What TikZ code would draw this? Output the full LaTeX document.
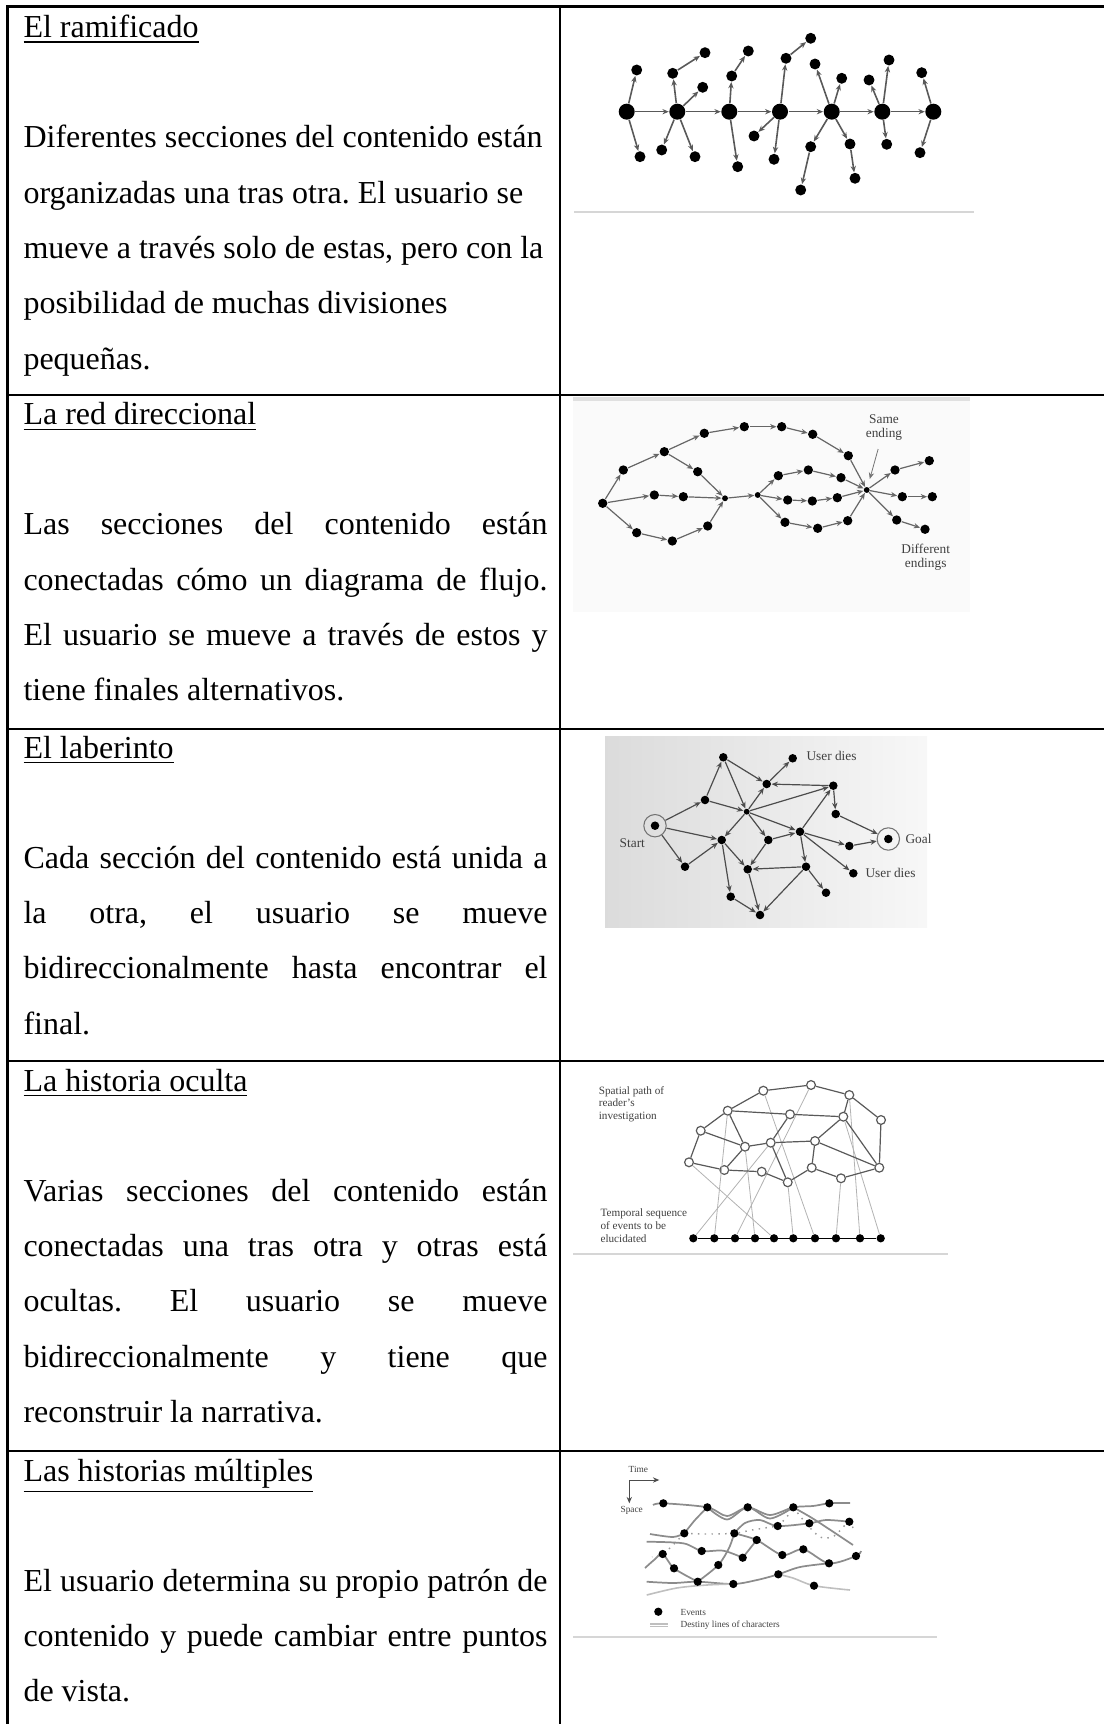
\documentclass[tikz,border=0pt]{standalone}
\usepackage{fontspec}
\setmainfont{Liberation Serif}
\usetikzlibrary{arrows.meta}
\newcommand\celfont{\fontsize{12}{20.75}\selectfont\frenchspacing\hyphenpenalty=10000 \tolerance=10000 }
\tikzset{
  >={Stealth[length=2.4pt,width=2pt]},
  rule/.style={line width=1pt},
  frame/.style={black!16, line width=1pt},
  title/.style={anchor=base west, inner sep=0pt, font=\celfont},
  celltext/.style={anchor=base west, inner sep=0pt, text width=196.5pt, font=\celfont},
  bigdot/.style={circle, fill=black, inner sep=0pt, minimum size=6pt},
  dot/.style={circle, fill=black, inner sep=0pt, minimum size=4.1pt},
  ddot/.style={circle, fill=black, inner sep=0pt, minimum size=3.5pt},
  jdot/.style={circle, fill=black, inner sep=0pt, minimum size=2.2pt},
  mdot/.style={circle, fill=black, inner sep=0pt, minimum size=3.2pt},
  ring/.style={circle, draw=black!55, line width=0.4pt, inner sep=0pt, minimum size=8.4pt},
  odot/.style={circle, draw=black!65, fill=white, line width=0.45pt, inner sep=0pt, minimum size=3.3pt},
  tdot/.style={circle, fill=black, inner sep=0pt, minimum size=3.1pt},
  evt/.style={circle, fill=black, inner sep=0pt, minimum size=3.1pt},
  rarr/.style={->, black!65, line width=0.6pt},
  darr/.style={->, black!60, line width=0.45pt},
  marr/.style={->, black!70, line width=0.45pt},
  net/.style={black!65, line width=0.45pt},
  link/.style={black!30, line width=0.3pt},
  dest/.style={black!45, line width=0.65pt},
  destd/.style={black!40, line width=0.55pt, dotted},
  destl/.style={black!25, line width=0.6pt},
  lbl/.style={inner sep=0pt, font=\fontsize{5}{5.25}\selectfont, black!75},
  slbl/.style={inner sep=0pt, font=\fontsize{4.2}{4.7}\selectfont, black!75},
  tlbl/.style={inner sep=0pt, font=\fontsize{3.5}{3.8}\selectfont, black!75}
}

\begin{document}
\begin{tikzpicture}[x=0.375pt,y=-0.375pt]
\useasboundingbox (0,0) rectangle (1104,1724);
% фон картинок
\fill[black!2] (573,398) rectangle (970,612);
\draw[black!12, line width=1.2pt] (573,399) -- (970,399);
\shade[left color=black!14, right color=black!3] (605,736) rectangle (927,927);
\draw[frame] (574,212) -- (974,212);
\draw[frame] (573,1254) -- (948,1254);
\draw[frame] (573,1637) -- (937,1637);
% таблица
\draw[rule] (7.5,1724) -- (7.5,6.5) -- (1104,6.5);
\draw[rule] (560,6.5) -- (560,1724);
\foreach \y in {395,729,1061,1451}
  \draw[rule] (7.5,\y) -- (1104,\y);
% текст
\node[title] (tit1) at (23,38) {\underline{El ramificado}};
\node[celltext, align=justify] (txt1) at (23,148) {Diferentes secciones del contenido están\\
organizadas una tras otra. El usuario se\\
mueve a través solo de estas, pero con la\\
posibilidad de muchas divisiones\\
pequeñas.};
\node[title] (tit2) at (23,425) {\underline{La red direccional}};
\node[celltext, align=justify] (txt2) at (23,535) {Las secciones del contenido están\linebreak
conectadas cómo un diagrama de flujo.\linebreak
El usuario se mueve a través de estos y\linebreak
tiene finales alternativos.};
\node[title] (tit3) at (23,758) {\underline{El laberinto}};
\node[celltext, align=justify] (txt3) at (23,868) {Cada sección del contenido está unida a\linebreak
la otra, el usuario se mueve\linebreak
bidireccionalmente hasta encontrar el\linebreak
final.};
\node[title] (tit4) at (23,1091) {\underline{La historia oculta}};
\node[celltext, align=justify] (txt4) at (23,1201) {Varias secciones del contenido están\linebreak
conectadas una tras otra y otras está\linebreak
ocultas. El usuario se mueve\linebreak
bidireccionalmente y tiene que\linebreak
reconstruir la narrativa.};
\node[title] (tit5) at (23,1481) {\underline{Las historias múltiples}};
\node[celltext, align=justify] (txt5) at (23,1591) {El usuario determina su propio patrón de\linebreak
contenido y puede cambiar entre puntos\linebreak
de vista.};
% ramificado
\foreach \i/\x in {1/626.7,2/677.3,3/729.3,4/780,5/831.7,6/882.3,7/933.3}
  \node[bigdot] (s\i) at (\x,111.7) {};
\foreach \i/\j in {1/2,2/3,3/4,4/5,5/6,6/7}
  \draw[rarr] (s\i) -- (s\j);
\foreach \n/\x/\y/\p in {ra/636.7/70/s1, rb/640/156.7/s1,
  rc/672.7/73.3/s2, rcc/705/52.7/rc, rd/702.7/87.3/s2, re/661.7/150/s2, rf/695/156.7/s2,
  rg/731.7/76/s3, rgg/748.3/51/rg, rh/737.7/166.7/s3,
  ri/786/58.3/s4, rii/810.7/38.3/ri, rj/754/136/s4, rk/774/159.3/s4,
  rl/815/64/s5, rm/841.7/78.3/s5, rn/810.7/146.7/s5, rnn/800.7/190/rn,
  ro/850/144/s5, roo/855/178.3/ro,
  rp/869/80/s6, rq/889/60/s6, rr/886.7/144.3/s6,
  rt/921.7/72.7/s7, ru/920/152.7/s7}
{
  \node[dot] (\n) at (\x,\y) {};
  \draw[rarr] (\p) -- (\n);
}
% red direccional
\foreach \n/\x/\y in {d0/602.7/503.3,
  du1/623.3/470, du2/664.3/451.7, du3/704.3/433.3, du4/744.3/426.7,
  du5/781.7/426.7, du6/812.7/434.3, du7/848.3/455.7, dv1/697.7/471.7,
  dm1/654.3/495, dm2/683.3/496.7, dw1/636.7/532.7, dw2/672.3/541, dw3/707.7/526,
  dx1/778.3/475.7, dx2/808.3/470, dx3/841/477.7,
  dy1/787.7/500, dy2/812.3/501, dy3/837.3/497.7,
  dz1/785/522.3, dz2/817.7/528.3, dz3/847.7/520.7,
  de1/895/470, de2/929.3/460.7, df1/902.3/496.7, df2/932.3/496.7,
  dg1/896.7/520, dg2/925/529.3}
  \node[ddot] (\n) at (\x,\y) {};
\node[jdot] (dj) at (725,498.3) {};
\node[jdot] (dk) at (757.7,495) {};
\node[jdot] (dh) at (866.7,490) {};
\foreach \a/\b in {d0/du1, du1/du2, du2/du3, du3/du4, du4/du5, du5/du6, du6/du7, du7/dh,
  du2/dv1, dv1/dj, d0/dm1, dm1/dm2, dm2/dj, d0/dw1, dw1/dw2, dw2/dw3, dw3/dj, dj/dk,
  dk/dx1, dx1/dx2, dx2/dx3, dx3/dh, dk/dy1, dy1/dy2, dy2/dy3, dy3/dh,
  dk/dz1, dz1/dz2, dz2/dz3, dz3/dh, dh/de1, de1/de2, dh/df1, df1/df2, dh/dg1, dg1/dg2}
  \draw[darr] (\a) -- (\b);
\node[lbl, align=center] (same) at (884,428) {Same\\ending};
\draw[->, black!55, line width=0.3pt, shorten <=3pt, shorten >=3pt] (same) -- (dh);
\node[lbl, align=center] (diff) at (925.7,557.7) {Different\\endings};
% laberinto
\foreach \n/\x/\y in {m1/723.3/757.3, mud1/792.7/758.3, m2/766.7/784, m3/833.3/785.7,
  m4/705/800, m6/835.7/814, m7/721.7/840, m8/768.3/840, m9/800/831.7,
  m10/849.3/846, m11/685/866.7, m12/747.7/869.3, m13/806/866.7, mud2/853.3/873.3,
  m14/826/892.7, m15/730.7/896.7, m16/760/915}
  \node[mdot] (\n) at (\x,\y) {};
\node[jdot] (m5) at (746.7,811.7) {};
\node[mdot] (mstd) at (655,825.7) {};
\node[ring] (mst) at (655,825.7) {};
\node[mdot] (mgod) at (888.3,839) {};
\node[ring] (mgo) at (888.3,839) {};
\foreach \a/\b in {mst/m4, mst/m7, mst/m11, m11/m7, m4/m1, m4/m5, m1/m5, m1/m2,
  m2/mud1, m3/m2, m5/m3, m5/m2, m5/m9, m5/m7, m5/m8, m9/m3, m3/m6, m6/mgo,
  m9/m10, m10/mgo, m9/mud2, m9/m13, m8/m9, m8/m12, m7/m12, m7/m15,
  m13/m12, m13/m14, m13/m16, m12/m16, m15/m16}
  \draw[marr] (\a) -- (\b);
\node[lbl, anchor=west] (ud1) at (806,756) {User dies};
\node[lbl, anchor=west] (ud2) at (865,873.3) {User dies};
\node[lbl] (start) at (632.3,842.7) {Start};
\node[lbl, anchor=west] (goal) at (905,839) {Goal};
% historia oculta
\foreach \i/\x in {1/693.3,2/714.3,3/735,4/755,5/774,6/793.3,7/815,8/836,9/860,10/880.7}
  \node[tdot] (ht\i) at (\x,1238.3) {};
\draw[black, line width=0.6pt] (ht1) -- (ht10);
\foreach \n/\x/\y in {hA/689/1162.3, hB/700.7/1130.7, hC/727.7/1110.7, hD/763.3/1090.7,
  hE/811/1085, hF/849.3/1095, hG/881/1120, hH/790/1114.3, hI/843.3/1116.7,
  hJ/745/1146.7, hK/770.7/1142.7, hL/815/1141, hM/724.3/1170, hN/761.7/1171.7,
  hO/787.7/1182.3, hP/811.7/1167.7, hQ/841/1178.3, hR/879.3/1167.7}
  \node[odot] (\n) at (\x,\y) {};
\foreach \a/\b in {ht1/hK, ht2/hC, ht3/hE, ht4/hJ, ht5/hA, ht6/hO, ht7/hD, ht8/hQ, ht9/hF, ht10/hI}
  \draw[link] (\a) -- (\b);
\foreach \a/\b in {hA/hB, hB/hC, hC/hD, hD/hE, hE/hF, hF/hG, hG/hR, hB/hJ, hC/hH, hH/hI,
  hC/hJ, hA/hM, hM/hN, hM/hJ, hJ/hK, hK/hH, hK/hL, hK/hO, hN/hO, hO/hP, hP/hL, hP/hQ,
  hQ/hR, hL/hI, hI/hR, hL/hR, hF/hI}
  \draw[net] (\a) -- (\b);
\node[slbl, anchor=base west, align=left] (spat) at (598.3,1119.5) {Spatial path of\\reader’s\\investigation};
\node[slbl, anchor=base west, align=left] (temp) at (600,1242) {Temporal sequence\\of events to be\\elucidated};
% historias multiples
\foreach \i/\x/\y in {1/663.3/1503.3, 2/707.3/1507.3, 3/747.7/1507.3, 4/793.3/1507.3,
  5/829.3/1503.3, 6/849.3/1521.7, 7/684.3/1533.3, 8/734.3/1533.3, 9/756.7/1540,
  10/777.7/1526, 11/809.3/1523.3, 12/662.7/1554, 13/701.7/1551, 14/742.7/1557.7,
  15/782.3/1555, 16/803.3/1549.3, 17/856/1556, 18/674/1568.3, 19/718.3/1565,
  20/829/1563.3, 21/697.7/1581.7, 22/733.3/1584, 23/778.3/1574.3, 24/814/1585.7}
  \coordinate (q\i) at (\x,\y);
\draw[dest] plot[smooth] coordinates {(653,1505) (q1) (q2) (727,1516) (q3) (770,1515) (q4) (813,1506) (q5) (850,1503)};
\draw[dest] plot[smooth] coordinates {(q2) (727,1519.5) (q3) (770,1518.5) (q4)};
\draw[dest] plot[smooth] coordinates {(q2) (695,1520) (q7)};
\draw[destd] plot[smooth] coordinates {(q7) (672,1546) (q12) (652,1557)};
\draw[dest] plot[smooth] coordinates {(650,1534) (673,1537) (q7)};
\draw[destd] plot[smooth] coordinates {(q7) (707,1534) (q8) (752,1530) (q10)};
\draw[dest] plot[smooth] coordinates {(q8) (745,1523) (760,1520) (q10) (q11) (826,1520) (q6)};
\draw[destd] plot[smooth] coordinates {(q10) (786,1518) (q4)};
\draw[destd] plot[smooth] coordinates {(q4) (805,1522) (820,1537) (834,1536) (q6) (854,1533)};
\draw[dest] plot[smooth] coordinates {(q4) (812,1518) (835,1533) (853,1545)};
\draw[dest] plot[smooth] coordinates {(646.7,1541.7) (683.3,1543.3) (q13) (723.3,1550.7) (q14)};
\draw[dest] plot[smooth] coordinates {(q8) (q9) (q15) (q16) (q20) (q17) (861,1551)};
\draw[dest] (q9) -- (q14);
\draw[dest] plot[smooth] coordinates {(645,1568) (654,1560) (q12) (q18) (q21)};
\draw[dest] plot[smooth] coordinates {(q21) (q19) (729,1548) (q8)};
\draw[dest] plot[smooth] coordinates {(646.7,1581.7) (673,1583) (q21) (q22) (757,1580) (q23) (800,1567) (q20)};
\draw[destl] plot[smooth] coordinates {(646.7,1595) (676.7,1588) (706.7,1585) (q22)};
\draw[destl] plot[smooth] coordinates {(q23) (793,1578) (q24) (850,1590)};
\foreach \i in {1,...,24}
  \node[evt] (ev\i) at (q\i) {};
\coordinate (tsp) at (629.3,1480);
\coordinate (tend) at (659.3,1480);
\coordinate (send) at (629.3,1503.3);
\draw[->, black!70, line width=0.35pt] (tsp) -- (tend);
\draw[->, black!70, line width=0.35pt] (tsp) -- (send);
\node[tlbl] (time) at (638.3,1469.3) {Time};
\node[tlbl] (space) at (631.7,1510) {Space};
\node[evt] (lgdot) at (658.3,1611.7) {};
\node[tlbl, anchor=west] (lgev) at (680,1612.7) {Events};
\draw[destl] (650,1623.8) -- (668.3,1623.8);
\draw[destl] (650,1626.4) -- (668.3,1626.4);
\node[tlbl, anchor=west] (lgdest) at (680,1625) {Destiny lines of characters};
\end{tikzpicture}
\end{document}
